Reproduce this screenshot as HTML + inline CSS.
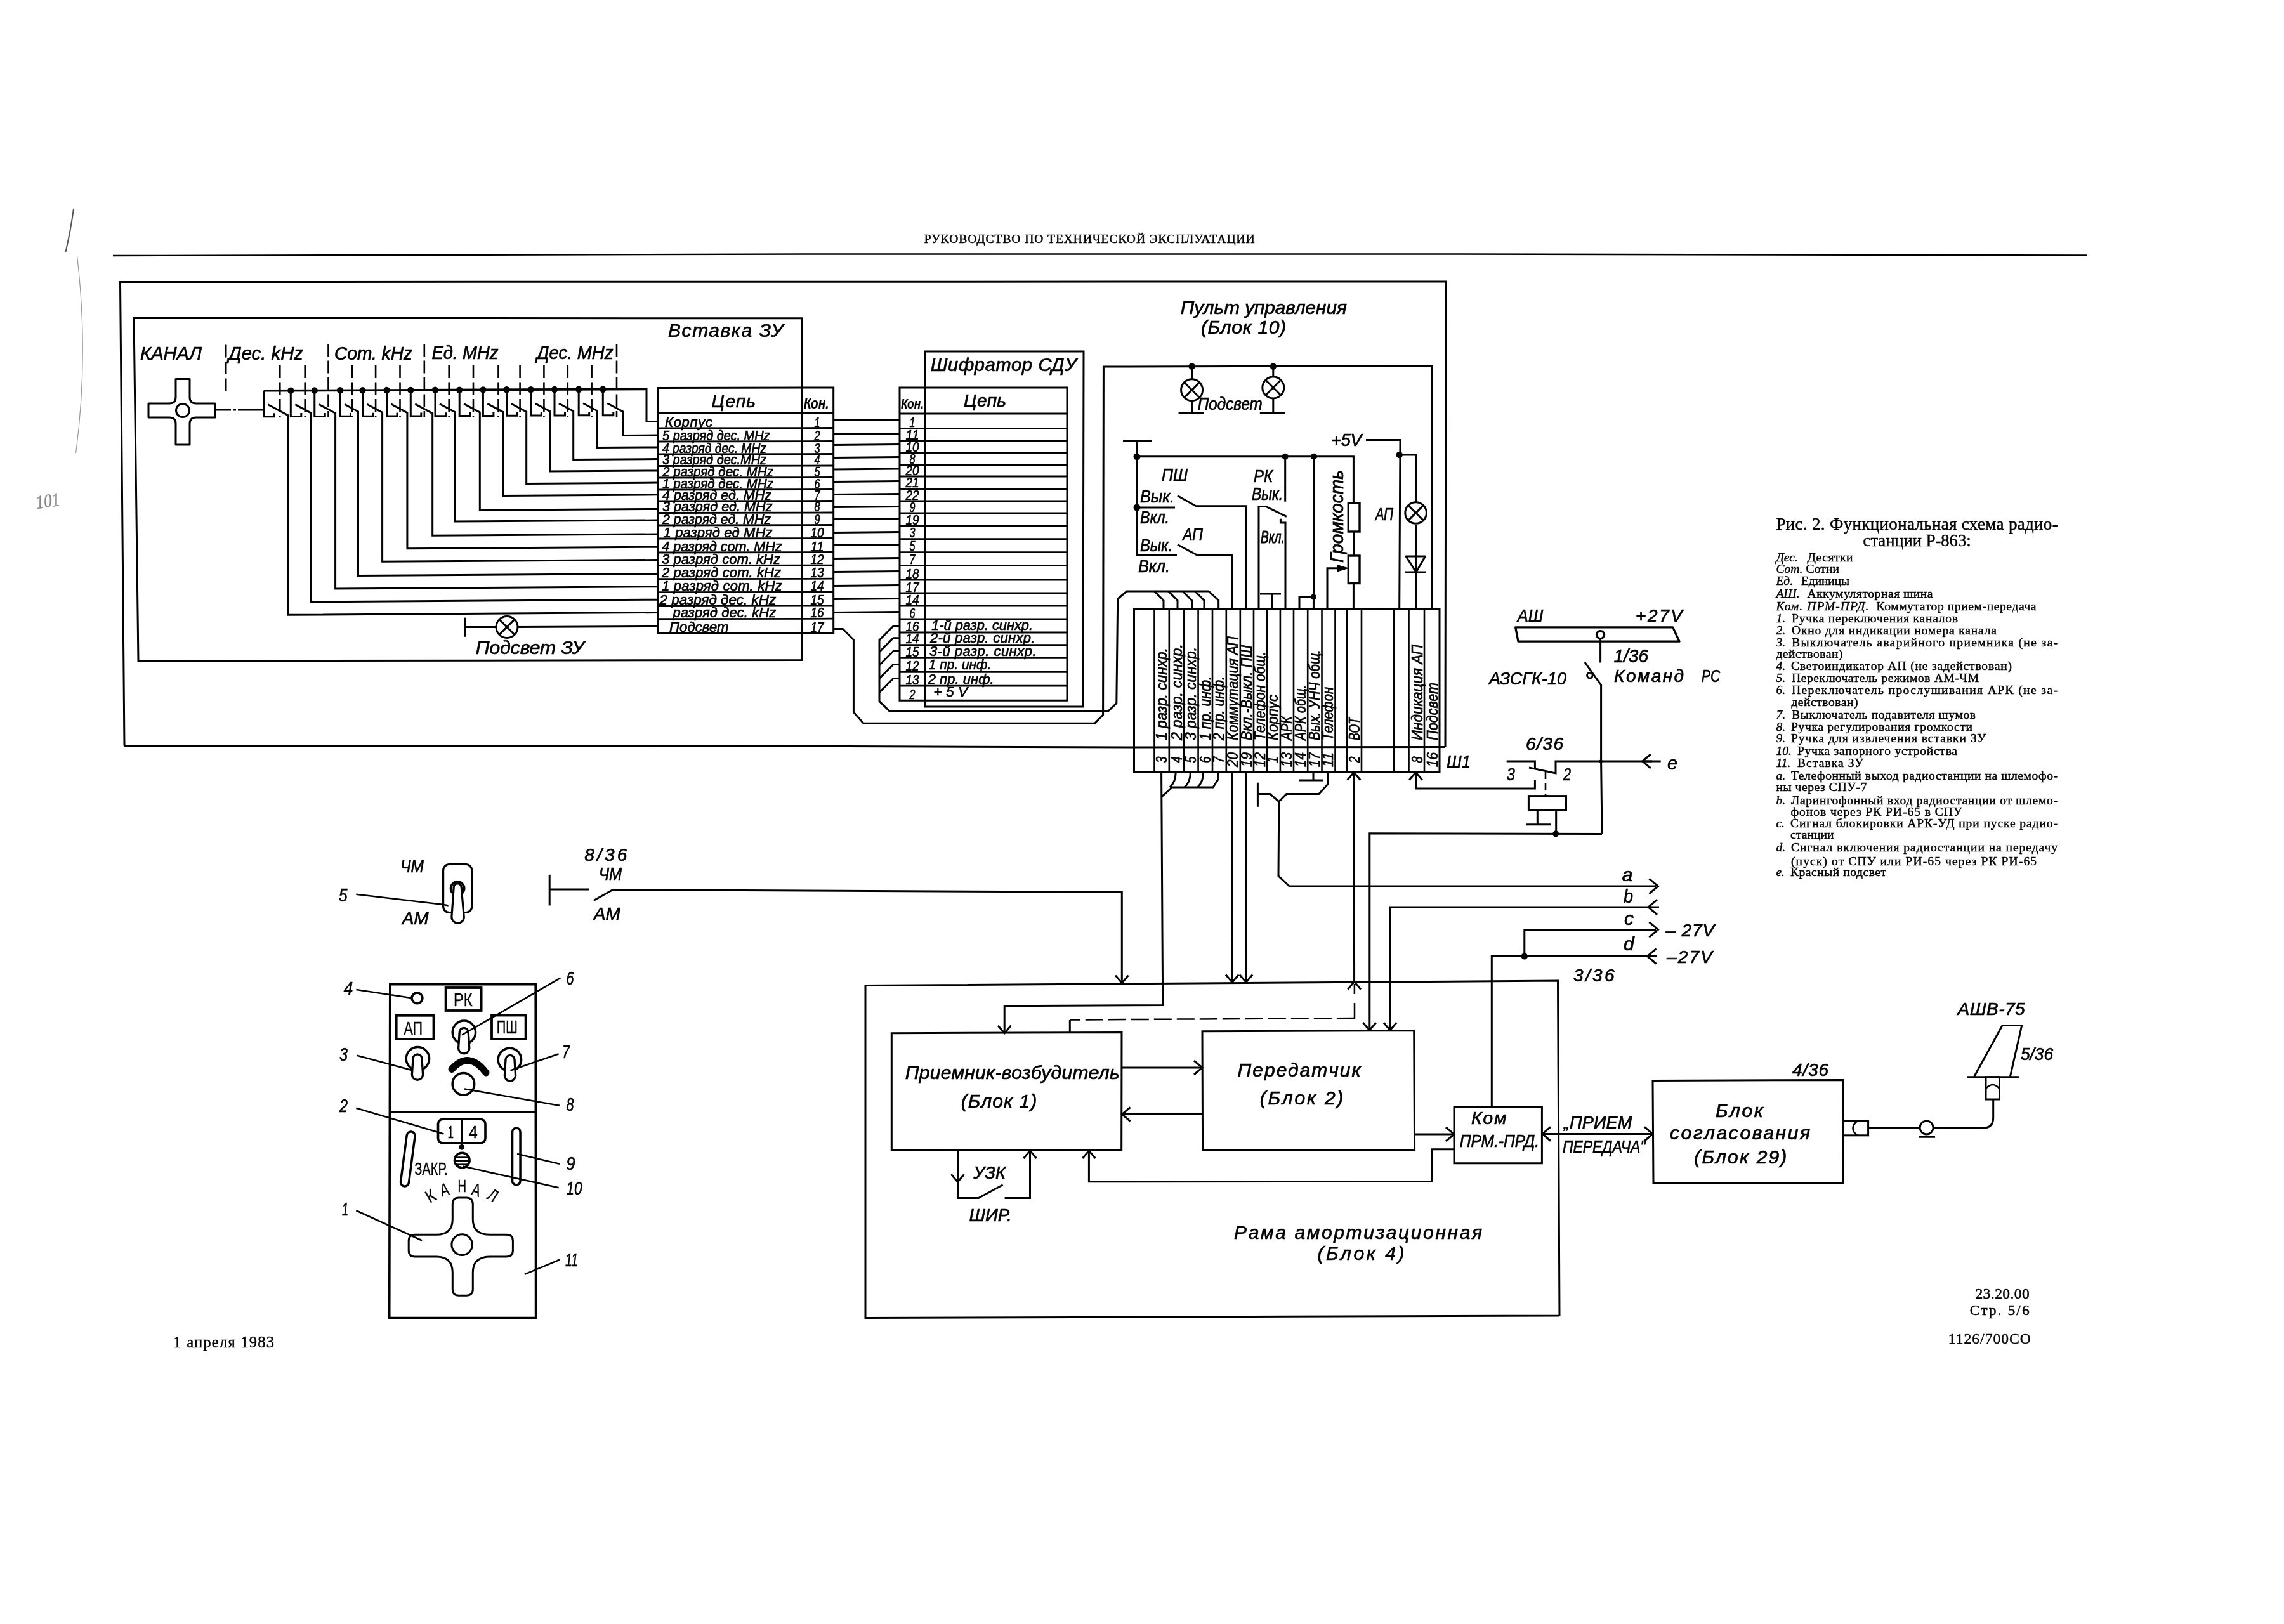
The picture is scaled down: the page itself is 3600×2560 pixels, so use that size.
<!DOCTYPE html>
<html lang="ru"><head><meta charset="utf-8"><title>Рис. 2. Функциональная схема радиостанции Р-863</title>
<style>
html,body{margin:0;padding:0;background:#fff}
svg{display:block;will-change:transform;opacity:.999}
text{fill:#000;stroke:#000;stroke-width:.7}
.g{font-family:"Liberation Sans",sans-serif;font-style:italic}
.gb{font-family:"Liberation Sans",sans-serif;font-style:italic;font-weight:bold;stroke-width:.2}
.u{font-family:"Liberation Sans",sans-serif;stroke-width:.4}
.s{font-family:"Liberation Serif",serif;stroke-width:.5}
.si{font-family:"Liberation Serif",serif;font-style:italic;stroke-width:.45}
</style></head><body>
<svg width="3600" height="2560" viewBox="0 0 3600 2560">
<rect x="0" y="0" width="3600" height="2560" fill="#fff"/>
<g fill="none" stroke="#000" stroke-width="3">
<text class="s" x="1456.7" y="382.5" font-size="19.5" textLength="521" lengthAdjust="spacing">РУКОВОДСТВО ПО ТЕХНИЧЕСКОЙ ЭКСПЛУАТАЦИИ</text>
<path d="M178 403 L1300 400.5 L2300 400.5 L3290 402.5" stroke-width="2.4"/>
<path d="M196 1175.5 L189.5 444.5 L2279 444 L2278 1177.5"/>
<path d="M196 1175.5 L1000 1175.5 L1788 1178"/>
<path d="M1264 611 L1264 501.7 L211 501.5 L218 1042 L1263.5 1040.5 L1263.5 998"/>
<path d="M277 597.5 H299 V626 Q299 636 309 636 H339 V658 H309 Q299 658 299 668 V701 H277 V668 Q277 658 267 658 H234 V636 H267 Q277 636 277 626 Z" stroke-linejoin="round"/>
<circle cx="288" cy="647" r="10.5"/>
<path d="M340 646 L364 646"/>
<path d="M367 646 L372 646"/>
<path d="M375 646 L414 646"/>
<text class="g" x="221" y="566.5" font-size="30" textLength="97" lengthAdjust="spacingAndGlyphs">КАНАЛ</text>
<text class="g" x="360" y="566.5" font-size="30" textLength="118" lengthAdjust="spacingAndGlyphs">Дес. kHz</text>
<text class="g" x="527" y="566.5" font-size="30" textLength="123" lengthAdjust="spacingAndGlyphs">Сот. kHz</text>
<text class="g" x="680.4" y="566" font-size="30" textLength="105" lengthAdjust="spacingAndGlyphs">Ед. MHz</text>
<text class="g" x="846" y="565.5" font-size="30" textLength="120.5" lengthAdjust="spacingAndGlyphs">Дес. MHz</text>
<text class="g" x="1053" y="530.6" font-size="30" textLength="181.5" lengthAdjust="spacing">Вставка ЗУ</text>
<text class="g" x="749.7" y="1031.3" font-size="30" textLength="171" lengthAdjust="spacing">Подсвет ЗУ</text>
<path d="M415.8 615.8 L1019 613.4" stroke-width="3.6"/>
<path d="M1019 612 L1019 664.6 L1037 664.6"/>
<path d="M356.2 543.6 L356.2 622" stroke-width="2.6" stroke-dasharray="20 6.5"/>
<path d="M517.5 542 L517.5 657" stroke-width="2.6" stroke-dasharray="20 6.5"/>
<path d="M668.8 542 L668.8 657" stroke-width="2.6" stroke-dasharray="20 6.5"/>
<path d="M972 542 L972 657" stroke-width="2.6" stroke-dasharray="20 6.5"/>
<path d="M441.3 576 L441.3 657" stroke-width="2.6" stroke-dasharray="20 6.5"/>
<path d="M480.7 576 L480.7 657" stroke-width="2.6" stroke-dasharray="20 6.5"/>
<path d="M555.3 576 L555.3 657" stroke-width="2.6" stroke-dasharray="20 6.5"/>
<path d="M592.1 576 L592.1 657" stroke-width="2.6" stroke-dasharray="20 6.5"/>
<path d="M630.5 576 L630.5 657" stroke-width="2.6" stroke-dasharray="20 6.5"/>
<path d="M707.7 576 L707.7 657" stroke-width="2.6" stroke-dasharray="20 6.5"/>
<path d="M746 576 L746 657" stroke-width="2.6" stroke-dasharray="20 6.5"/>
<path d="M785.5 576 L785.5 657" stroke-width="2.6" stroke-dasharray="20 6.5"/>
<path d="M819.6 576 L819.6 657" stroke-width="2.6" stroke-dasharray="20 6.5"/>
<path d="M857.4 576 L857.4 657" stroke-width="2.6" stroke-dasharray="20 6.5"/>
<path d="M894.8 576 L894.8 657" stroke-width="2.6" stroke-dasharray="20 6.5"/>
<path d="M932.6 576 L932.6 657" stroke-width="2.6" stroke-dasharray="20 6.5"/>
<path d="M415.5 615.8 L415.5 656.8 L432 656.8 L432 651.3"/>
<path d="M422.5 637.8 L454 654.7 L454 969.3 L1037 965.5"/>
<path d="M458.3 615.6 L458.3 656.6 L474.8 656.6 L474.8 651.1"/>
<circle cx="458.3" cy="615.6" r="5.2" fill="#000" stroke="none"/>
<path d="M465.3 637.6 L490.5 651.1 L490.5 948.8 L1037 945.2"/>
<path d="M495.8 615.5 L495.8 656.5 L512.3 656.5 L512.3 651"/>
<circle cx="495.8" cy="615.5" r="5.2" fill="#000" stroke="none"/>
<path d="M502.8 637.5 L528.6 651.3 L528.6 928 L1037 924.7"/>
<path d="M536 615.3 L536 656.3 L552.5 656.3 L552.5 650.8"/>
<circle cx="536" cy="615.3" r="5.2" fill="#000" stroke="none"/>
<path d="M543 637.3 L564.5 648.8 L564.5 907.5 L1037 904.4"/>
<path d="M571.5 615.2 L571.5 656.2 L588 656.2 L588 650.7"/>
<circle cx="571.5" cy="615.2" r="5.2" fill="#000" stroke="none"/>
<path d="M578.5 637.2 L602.6 650.1 L602.6 885.3 L1037 882.5"/>
<path d="M609.5 615 L609.5 656 L626 656 L626 650.5"/>
<circle cx="609.5" cy="615" r="5.2" fill="#000" stroke="none"/>
<path d="M616.5 637 L641.9 650.6 L641.9 864.8 L1037 862.2"/>
<path d="M647.3 614.9 L647.3 655.9 L663.8 655.9 L663.8 650.4"/>
<circle cx="647.3" cy="614.9" r="5.2" fill="#000" stroke="none"/>
<path d="M654.3 636.9 L681.7 651.6 L681.7 844.3 L1037 842"/>
<path d="M686 614.7 L686 655.7 L702.5 655.7 L702.5 650.2"/>
<circle cx="686" cy="614.7" r="5.2" fill="#000" stroke="none"/>
<path d="M693 636.7 L717.3 649.7 L717.3 822.1 L1037 820"/>
<path d="M724.2 614.6 L724.2 655.6 L740.7 655.6 L740.7 650.1"/>
<circle cx="724.2" cy="614.6" r="5.2" fill="#000" stroke="none"/>
<path d="M731.2 636.6 L756.3 650 L756.3 804.2 L1037 802.4"/>
<path d="M761.4 614.4 L761.4 655.4 L777.9 655.4 L777.9 649.9"/>
<circle cx="761.4" cy="614.4" r="5.2" fill="#000" stroke="none"/>
<path d="M768.4 636.4 L792.7 649.4 L792.7 781.4 L1037 779.8"/>
<path d="M798.6 614.3 L798.6 655.3 L815.1 655.3 L815.1 649.8"/>
<circle cx="798.6" cy="614.3" r="5.2" fill="#000" stroke="none"/>
<path d="M805.6 636.3 L829.7 649.2 L829.7 762.4 L1037 761.1"/>
<path d="M836.8 614.1 L836.8 655.1 L853.3 655.1 L853.3 649.6"/>
<circle cx="836.8" cy="614.1" r="5.2" fill="#000" stroke="none"/>
<path d="M843.8 636.1 L866.7 648.4 L866.7 743 L1037 741.9"/>
<path d="M874 614 L874 655 L890.5 655 L890.5 649.5"/>
<circle cx="874" cy="614" r="5.2" fill="#000" stroke="none"/>
<path d="M881 636 L903.7 648.1 L903.7 724.5 L1037 723.6"/>
<path d="M912.2 613.8 L912.2 654.8 L928.7 654.8 L928.7 649.3"/>
<circle cx="912.2" cy="613.8" r="5.2" fill="#000" stroke="none"/>
<path d="M919.2 635.8 L940.7 647.3 L940.7 705.5 L1037 704.9"/>
<path d="M950.3 613.7 L950.3 654.7 L966.8 654.7 L966.8 649.2"/>
<circle cx="950.3" cy="613.7" r="5.2" fill="#000" stroke="none"/>
<path d="M957.3 635.7 L982 648.9 L982 686.4 L1037 686"/>
<path d="M1037 611.5 L1313.7 611 L1313.7 998 L1037 998Z"/>
<path d="M1264 611 L1264 998"/>
<path d="M1037 651.5 L1313.7 651" stroke-width="2.8"/>
<path d="M1037 675 L1313.7 674.5" stroke-width="2.8"/>
<path d="M1037 696 L1313.7 695.5" stroke-width="2.8"/>
<path d="M1037 716 L1313.7 715.5" stroke-width="2.8"/>
<path d="M1037 734.5 L1313.7 734" stroke-width="2.8"/>
<path d="M1037 753 L1313.7 752.5" stroke-width="2.8"/>
<path d="M1037 772 L1313.7 771.5" stroke-width="2.8"/>
<path d="M1037 790 L1313.7 789.5" stroke-width="2.8"/>
<path d="M1037 808.5 L1313.7 808" stroke-width="2.8"/>
<path d="M1037 828 L1313.7 827.5" stroke-width="2.8"/>
<path d="M1037 849 L1313.7 848.5" stroke-width="2.8"/>
<path d="M1037 871 L1313.7 870.5" stroke-width="2.8"/>
<path d="M1037 891.6 L1313.7 891.1" stroke-width="2.8"/>
<path d="M1037 912.7 L1313.7 912.2" stroke-width="2.8"/>
<path d="M1037 933.7 L1313.7 933.2" stroke-width="2.8"/>
<path d="M1037 955.5 L1313.7 955" stroke-width="2.8"/>
<path d="M1037 975.7 L1313.7 975.2" stroke-width="2.8"/>
<text class="g" x="1121.6" y="642" font-size="28" textLength="69.5" lengthAdjust="spacing">Цепь</text>
<text class="gb" x="1267" y="643.6" font-size="23" textLength="39.5" lengthAdjust="spacingAndGlyphs">Кон.</text>
<text class="g" x="1048" y="672.5" font-size="22" textLength="75" lengthAdjust="spacing">Корпус</text>
<text class="g" x="1283.5" y="672.5" font-size="22" textLength="9" lengthAdjust="spacingAndGlyphs">1</text>
<text class="g" x="1044" y="693.5" font-size="22" textLength="169.6" lengthAdjust="spacingAndGlyphs">5 разряд дес. MHz</text>
<text class="g" x="1283.5" y="693.5" font-size="22" textLength="9" lengthAdjust="spacingAndGlyphs">2</text>
<text class="g" x="1044" y="713.5" font-size="22" textLength="164" lengthAdjust="spacingAndGlyphs">4 разряд дес. MHz</text>
<text class="g" x="1283.5" y="713.5" font-size="22" textLength="9" lengthAdjust="spacingAndGlyphs">3</text>
<text class="g" x="1044" y="732" font-size="22" textLength="164" lengthAdjust="spacingAndGlyphs">3 разряд дес.MHz</text>
<text class="g" x="1283.5" y="732" font-size="22" textLength="9" lengthAdjust="spacingAndGlyphs">4</text>
<text class="g" x="1044" y="750.5" font-size="22" textLength="174.8" lengthAdjust="spacingAndGlyphs">2 разряд дес. MHz</text>
<text class="g" x="1283.5" y="750.5" font-size="22" textLength="9" lengthAdjust="spacingAndGlyphs">5</text>
<text class="g" x="1044" y="769.5" font-size="22" textLength="174.8" lengthAdjust="spacingAndGlyphs">1 разряд дес. MHz</text>
<text class="g" x="1283.5" y="769.5" font-size="22" textLength="9" lengthAdjust="spacingAndGlyphs">6</text>
<text class="g" x="1044" y="787.5" font-size="22" textLength="172" lengthAdjust="spacingAndGlyphs">4 разряд ед.  MHz</text>
<text class="g" x="1283.5" y="787.5" font-size="22" textLength="9" lengthAdjust="spacingAndGlyphs">7</text>
<text class="g" x="1044" y="806" font-size="22" textLength="173.5" lengthAdjust="spacingAndGlyphs">3 разряд ед. MHz</text>
<text class="g" x="1283.5" y="806" font-size="22" textLength="9" lengthAdjust="spacingAndGlyphs">8</text>
<text class="g" x="1044" y="825.5" font-size="22" textLength="171" lengthAdjust="spacingAndGlyphs">2 разряд ед. MHz</text>
<text class="g" x="1283.5" y="825.5" font-size="22" textLength="9" lengthAdjust="spacingAndGlyphs">9</text>
<text class="g" x="1045.5" y="846.5" font-size="22" textLength="172" lengthAdjust="spacing">1 разряд ед MHz</text>
<text class="g" x="1277.5" y="846.5" font-size="22" textLength="21" lengthAdjust="spacingAndGlyphs">10</text>
<text class="g" x="1043.3" y="868.5" font-size="22" textLength="189.2" lengthAdjust="spacingAndGlyphs">4 разряд сот. MHz</text>
<text class="g" x="1277.5" y="868.5" font-size="22" textLength="21" lengthAdjust="spacingAndGlyphs">11</text>
<text class="g" x="1043" y="889.1" font-size="22" textLength="187" lengthAdjust="spacing">3 разряд сот. kHz</text>
<text class="g" x="1277.5" y="889.1" font-size="22" textLength="21" lengthAdjust="spacingAndGlyphs">12</text>
<text class="g" x="1043" y="910.2" font-size="22" textLength="188" lengthAdjust="spacing">2 разряд сот. kHz</text>
<text class="g" x="1277.5" y="910.2" font-size="22" textLength="21" lengthAdjust="spacingAndGlyphs">13</text>
<text class="g" x="1043" y="931.2" font-size="22" textLength="189.5" lengthAdjust="spacing">1 разряд сот. kHz</text>
<text class="g" x="1277.5" y="931.2" font-size="22" textLength="21" lengthAdjust="spacingAndGlyphs">14</text>
<text class="g" x="1039.4" y="953" font-size="22" textLength="183.9" lengthAdjust="spacingAndGlyphs">2 разряд  дес. kHz</text>
<text class="g" x="1277.5" y="953" font-size="22" textLength="21" lengthAdjust="spacingAndGlyphs">15</text>
<text class="g" x="1060.4" y="973.2" font-size="22" textLength="162.9" lengthAdjust="spacing">разряд дес. kHz</text>
<text class="g" x="1277.5" y="973.2" font-size="22" textLength="21" lengthAdjust="spacingAndGlyphs">16</text>
<text class="g" x="1055" y="995.5" font-size="22" textLength="93.4" lengthAdjust="spacing">Подсвет</text>
<text class="g" x="1277.5" y="995.5" font-size="22" textLength="21" lengthAdjust="spacingAndGlyphs">17</text>
<path d="M732.7 973.6 L732.7 1003.8"/>
<path d="M732.7 988.5 L782 988.5"/>
<path d="M816 988.5 L1037 987.5"/>
<circle cx="799" cy="988.5" r="17"/>
<path d="M787 976.5 L811 1000.5"/>
<path d="M787 1000.5 L811 976.5"/>
<path d="M1313.7 662.4 L1418 661.6"/>
<path d="M1313.7 684.4 L1418 683.6"/>
<path d="M1313.7 701.4 L1418 700.6"/>
<path d="M1313.7 721.4 L1418 720.6"/>
<path d="M1313.7 739.9 L1418 739.1"/>
<path d="M1313.7 759.4 L1418 758.6"/>
<path d="M1313.7 779.4 L1418 778.6"/>
<path d="M1313.7 799.4 L1418 798.6"/>
<path d="M1313.7 818.4 L1418 817.6"/>
<path d="M1313.7 839.4 L1418 838.6"/>
<path d="M1313.7 859.4 L1418 858.6"/>
<path d="M1313.7 880.4 L1418 879.6"/>
<path d="M1313.7 901.4 L1418 900.6"/>
<path d="M1313.7 923.4 L1418 922.6"/>
<path d="M1313.7 944.4 L1418 943.6"/>
<path d="M1313.7 965.4 L1418 964.6"/>
<path d="M1418 611 L1682 611 L1682 1104.2 L1418 1104.2Z"/>
<path d="M1458 1114 L1458 554 L1708 554 L1707 1114Z"/>
<path d="M1418 652 L1682 652" stroke-width="2.8"/>
<path d="M1418 675.6 L1682 675.6" stroke-width="2.8"/>
<path d="M1418 695 L1682 695" stroke-width="2.8"/>
<path d="M1418 714.5 L1682 714.5" stroke-width="2.8"/>
<path d="M1418 733 L1682 733" stroke-width="2.8"/>
<path d="M1418 751 L1682 751" stroke-width="2.8"/>
<path d="M1418 770.5 L1682 770.5" stroke-width="2.8"/>
<path d="M1418 790 L1682 790" stroke-width="2.8"/>
<path d="M1418 809 L1682 809" stroke-width="2.8"/>
<path d="M1418 829 L1682 829" stroke-width="2.8"/>
<path d="M1418 849.6 L1682 849.6" stroke-width="2.8"/>
<path d="M1418 870.6 L1682 870.6" stroke-width="2.8"/>
<path d="M1418 891.6 L1682 891.6" stroke-width="2.8"/>
<path d="M1418 914 L1682 914" stroke-width="2.8"/>
<path d="M1418 935 L1682 935" stroke-width="2.8"/>
<path d="M1418 955 L1682 955" stroke-width="2.8"/>
<path d="M1418 976 L1682 976" stroke-width="2.8"/>
<path d="M1418 997 L1682 997" stroke-width="2.8"/>
<path d="M1418 1016.6 L1682 1016.6" stroke-width="2.8"/>
<path d="M1418 1037.4 L1682 1037.4" stroke-width="2.8"/>
<path d="M1418 1059.3 L1682 1059.3" stroke-width="2.8"/>
<path d="M1418 1081.2 L1682 1081.2" stroke-width="2.8"/>
<text class="g" x="1466.7" y="585" font-size="29" textLength="230" lengthAdjust="spacing">Шифратор СДУ</text>
<text class="g" x="1519" y="641" font-size="28" textLength="67" lengthAdjust="spacing">Цепь</text>
<text class="gb" x="1420" y="643.6" font-size="22" textLength="36" lengthAdjust="spacingAndGlyphs">Кон.</text>
<text class="g" x="1433.5" y="673.1" font-size="22" textLength="9" lengthAdjust="spacingAndGlyphs">1</text>
<text class="g" x="1427.5" y="692.5" font-size="22" textLength="21" lengthAdjust="spacingAndGlyphs">11</text>
<text class="g" x="1427.5" y="712" font-size="22" textLength="21" lengthAdjust="spacingAndGlyphs">10</text>
<text class="g" x="1433.5" y="730.5" font-size="22" textLength="9" lengthAdjust="spacingAndGlyphs">8</text>
<text class="g" x="1427.5" y="748.5" font-size="22" textLength="21" lengthAdjust="spacingAndGlyphs">20</text>
<text class="g" x="1427.5" y="768" font-size="22" textLength="21" lengthAdjust="spacingAndGlyphs">21</text>
<text class="g" x="1427.5" y="787.5" font-size="22" textLength="21" lengthAdjust="spacingAndGlyphs">22</text>
<text class="g" x="1433.5" y="806.5" font-size="22" textLength="9" lengthAdjust="spacingAndGlyphs">9</text>
<text class="g" x="1427.5" y="826.5" font-size="22" textLength="21" lengthAdjust="spacingAndGlyphs">19</text>
<text class="g" x="1433.5" y="847.1" font-size="22" textLength="9" lengthAdjust="spacingAndGlyphs">3</text>
<text class="g" x="1433.5" y="868.1" font-size="22" textLength="9" lengthAdjust="spacingAndGlyphs">5</text>
<text class="g" x="1433.5" y="889.1" font-size="22" textLength="9" lengthAdjust="spacingAndGlyphs">7</text>
<text class="g" x="1427.5" y="911.5" font-size="22" textLength="21" lengthAdjust="spacingAndGlyphs">18</text>
<text class="g" x="1427.5" y="932.5" font-size="22" textLength="21" lengthAdjust="spacingAndGlyphs">17</text>
<text class="g" x="1427.5" y="952.5" font-size="22" textLength="21" lengthAdjust="spacingAndGlyphs">14</text>
<text class="g" x="1433.5" y="973.5" font-size="22" textLength="9" lengthAdjust="spacingAndGlyphs">6</text>
<text class="g" x="1427.5" y="994.5" font-size="22" textLength="21" lengthAdjust="spacingAndGlyphs">16</text>
<text class="g" x="1427.5" y="1014.1" font-size="22" textLength="21" lengthAdjust="spacingAndGlyphs">14</text>
<text class="g" x="1427.5" y="1034.9" font-size="22" textLength="21" lengthAdjust="spacingAndGlyphs">15</text>
<text class="g" x="1427.5" y="1056.8" font-size="22" textLength="21" lengthAdjust="spacingAndGlyphs">12</text>
<text class="g" x="1427.5" y="1078.7" font-size="22" textLength="21" lengthAdjust="spacingAndGlyphs">13</text>
<text class="g" x="1433.5" y="1101.7" font-size="22" textLength="9" lengthAdjust="spacingAndGlyphs">2</text>
<text class="g" x="1468.2" y="992.5" font-size="22" textLength="159.8" lengthAdjust="spacingAndGlyphs">1-й разр. синхр.</text>
<text class="g" x="1466" y="1013.3" font-size="22" textLength="165.3" lengthAdjust="spacing">2-й разр. синхр.</text>
<text class="g" x="1465" y="1034" font-size="22" textLength="168.5" lengthAdjust="spacing">3-й разр. синхр.</text>
<text class="g" x="1463.8" y="1055" font-size="22" textLength="98.5" lengthAdjust="spacingAndGlyphs">1 пр. инф.</text>
<text class="g" x="1462.7" y="1077.5" font-size="22" textLength="104" lengthAdjust="spacing">2 пр. инф.</text>
<text class="g" x="1471.5" y="1097.6" font-size="22" textLength="53.5" lengthAdjust="spacing">+ 5 V</text>
<path d="M1313.7 991.5 L1328.4 991.5 L1345.4 1008.5 L1345.4 1122.8 L1361 1140.3 L1725.4 1140.3 L1738.6 1127 L1739.4 578 L2257 576.8 L2257 961"/>
<path d="M1386 1008 L1386 1105.3 L1401.4 1120.6 L1747.3 1120.6 L1759.8 1108.6 L1761.7 944 L1776 932 L1905 932 L1920.7 946.5 L1920.7 961"/>
<path d="M1418 987 L1408 987 L1386 1009"/>
<path d="M1418 1005.7 L1408 1005.7 L1386 1027.7"/>
<path d="M1418 1026.5 L1408 1026.5 L1386 1048.5"/>
<path d="M1418 1047.5 L1408 1047.5 L1386 1069.5"/>
<path d="M1418 1069.5 L1408 1069.5 L1386 1091.5"/>
<path d="M1819.5 932 L1834 946.5 L1834 961"/>
<path d="M1841.5 932 L1856 946.5 L1856 961"/>
<path d="M1864.1 932 L1878.6 946.5 L1878.6 961"/>
<path d="M1883.5 932 L1898 946.5 L1898 961"/>
<text class="g" x="1860.8" y="495" font-size="30" textLength="262" lengthAdjust="spacingAndGlyphs">Пульт управления</text>
<text class="g" x="1893" y="526" font-size="30" textLength="134" lengthAdjust="spacing">(Блок 10)</text>
<circle cx="1878.6" cy="577.5" r="5.2" fill="#000" stroke="none"/>
<path d="M1878.6 577.5 L1878.6 597.7"/>
<path d="M1878.6 631.7 L1878.6 651.5"/>
<circle cx="1878.6" cy="614.7" r="17"/>
<path d="M1866.6 602.7 L1890.6 626.7"/>
<path d="M1866.6 626.7 L1890.6 602.7"/>
<path d="M1857.6 651.5 L1897.6 651.5"/>
<circle cx="2006.8" cy="577.5" r="5.2" fill="#000" stroke="none"/>
<path d="M2006.8 577.5 L2006.8 594"/>
<path d="M2006.8 628 L2006.8 651.5"/>
<circle cx="2006.8" cy="611" r="17"/>
<path d="M1994.8 599 L2018.8 623"/>
<path d="M1994.8 623 L2018.8 599"/>
<path d="M1985.8 651.5 L2025.8 651.5"/>
<text class="g" x="1887.8" y="646" font-size="27" textLength="102" lengthAdjust="spacingAndGlyphs">Подсвет</text>
<path d="M1770 695.3 L1815.6 695.3"/>
<path d="M1792 695.3 L1792 875.6 L1855 875.6"/>
<circle cx="1792" cy="719.8" r="5.5" fill="#000" stroke="none"/>
<circle cx="1792" cy="800" r="5.5" fill="#000" stroke="none"/>
<path d="M1792 719.8 L2133.4 719.8 L2133.4 792.5"/>
<circle cx="2025.7" cy="719.8" r="5" fill="#000" stroke="none"/>
<circle cx="2071" cy="719.8" r="5" fill="#000" stroke="none"/>
<path d="M1792 800 L1852 800"/>
<text class="g" x="1831" y="758" font-size="27" textLength="41" lengthAdjust="spacingAndGlyphs">ПШ</text>
<text class="g" x="1797" y="792" font-size="27" textLength="54" lengthAdjust="spacingAndGlyphs">Вык.</text>
<text class="g" x="1797" y="825" font-size="27" textLength="46" lengthAdjust="spacingAndGlyphs">Вкл.</text>
<path d="M1856 781.5 L1885 797.8 L1964 797.8 L1964 961"/>
<text class="g" x="1864" y="852" font-size="27" textLength="32" lengthAdjust="spacingAndGlyphs">АП</text>
<text class="g" x="1797" y="869" font-size="27" textLength="51" lengthAdjust="spacingAndGlyphs">Вык.</text>
<text class="g" x="1794" y="902" font-size="27" textLength="50" lengthAdjust="spacingAndGlyphs">Вкл.</text>
<path d="M1856 858.5 L1887.8 875.6 L1941.7 875.6 L1941.7 961"/>
<text class="g" x="1976" y="760" font-size="27" textLength="30" lengthAdjust="spacingAndGlyphs">РК</text>
<text class="g" x="1973" y="788" font-size="27" textLength="49" lengthAdjust="spacingAndGlyphs">Вык.</text>
<text class="g" x="1987" y="856.4" font-size="28" textLength="38" lengthAdjust="spacingAndGlyphs" style="stroke-width:0.9;">Вкл.</text>
<path d="M2025.7 719.8 L2025.7 790.7"/>
<path d="M1984 961 L1984 798.5 L1995.3 798.5 L2027.9 814.3"/>
<path d="M2018.4 817.7 L2018.4 824 L2026 824 L2026 961"/>
<path d="M1986 936 L2019 936"/>
<path d="M2004.7 936 L2004.7 961"/>
<path d="M2048 961 L2048 941 L2070.4 941"/>
<circle cx="2070.4" cy="941" r="4.5" fill="#000" stroke="none"/>
<path d="M2071 719.8 L2070.4 961"/>
<path d="M2092 961 L2092 895.7 L2110 895.7"/>
<path d="M2125 895.7 L2107.5 890.5 L2107.5 901 Z" stroke-width="1" fill="#000"/>
<path d="M2134 838 L2134 876"/>
<path d="M2133.4 919 L2133.4 961"/>
<rect x="2125.3" y="792.8" width="17.7" height="45.2" stroke-width="3.4"/>
<rect x="2125.3" y="876" width="17.7" height="43.5" stroke-width="3.4"/>
<text class="g" x="2116.5" y="887" font-size="30" textLength="146" lengthAdjust="spacingAndGlyphs" transform="rotate(-90 2116.5 887)" style="stroke-width:0.8;">Громкость</text>
<text class="g" x="2098" y="702.7" font-size="27" textLength="48.5" lengthAdjust="spacingAndGlyphs">+5V</text>
<path d="M2153 693.5 L2207 693.5 L2205.7 961"/>
<circle cx="2205.7" cy="717" r="5.2" fill="#000" stroke="none"/>
<path d="M2205.7 717 L2232 717 L2232 793"/>
<circle cx="2231.6" cy="808.5" r="16.8"/>
<path d="M2219.7 796.6 L2243.5 820.4"/>
<path d="M2219.7 820.4 L2243.5 796.6"/>
<path d="M2232 827 L2232 961"/>
<text class="g" x="2167.7" y="820.4" font-size="27.5" textLength="28.5" lengthAdjust="spacingAndGlyphs">АП</text>
<path d="M2216 877 L2246.4 877 L2232 901.9Z" stroke-linejoin="round"/>
<path d="M2215 902 L2247 902"/>
<path d="M1787.5 960.5 L2269 959.5 L2269 1217 L1787.5 1217.5Z"/>
<path d="M1787.5 1178 L2278 1177.5"/>
<path d="M1819.5 960 L1819.5 1217" stroke-width="2.6"/>
<path d="M1842.8 960 L1842.8 1217" stroke-width="2.6"/>
<path d="M1866 960 L1866 1217" stroke-width="2.6"/>
<path d="M1888.6 960 L1888.6 1217" stroke-width="2.6"/>
<path d="M1911 960 L1911 1217" stroke-width="2.6"/>
<path d="M1932.8 960 L1932.8 1217" stroke-width="2.6"/>
<path d="M1954.8 960 L1954.8 1217" stroke-width="2.6"/>
<path d="M1976 960 L1976 1217" stroke-width="2.6"/>
<path d="M1997 960 L1997 1217" stroke-width="2.6"/>
<path d="M2017.9 960 L2017.9 1217" stroke-width="2.6"/>
<path d="M2039 960 L2039 1217" stroke-width="2.6"/>
<path d="M2061.2 960 L2061.2 1217" stroke-width="2.6"/>
<path d="M2083.5 960 L2083.5 1217" stroke-width="2.6"/>
<path d="M2104.5 960 L2104.5 1217" stroke-width="2.6"/>
<path d="M2123 960 L2123 1217" stroke-width="2.6"/>
<path d="M2146 960 L2146 1217" stroke-width="2.6"/>
<path d="M2197 960 L2197 1217" stroke-width="2.6"/>
<path d="M2220.5 960 L2220.5 1217" stroke-width="2.6"/>
<path d="M2245 960 L2245 1217" stroke-width="2.6"/>
<text class="g" x="1839.3" y="1167" font-size="23" textLength="146" lengthAdjust="spacingAndGlyphs" transform="rotate(-90 1839.3 1167)">1 разр. синхр.</text>
<text class="g" x="1839.3" y="1202.5" font-size="23" textLength="10" lengthAdjust="spacingAndGlyphs" transform="rotate(-90 1839.3 1202.5)">3</text>
<text class="g" x="1862.5" y="1167" font-size="23" textLength="152" lengthAdjust="spacing" transform="rotate(-90 1862.5 1167)">2 разр. синхр.</text>
<text class="g" x="1862.5" y="1202.5" font-size="23" textLength="10" lengthAdjust="spacingAndGlyphs" transform="rotate(-90 1862.5 1202.5)">4</text>
<text class="g" x="1885.1" y="1167" font-size="23" textLength="147" lengthAdjust="spacingAndGlyphs" transform="rotate(-90 1885.1 1167)">3 разр. синхр.</text>
<text class="g" x="1885.1" y="1202.5" font-size="23" textLength="10" lengthAdjust="spacingAndGlyphs" transform="rotate(-90 1885.1 1202.5)">5</text>
<text class="g" x="1907.5" y="1167" font-size="23" textLength="101" lengthAdjust="spacingAndGlyphs" transform="rotate(-90 1907.5 1167)">1 пр. инф.</text>
<text class="g" x="1907.5" y="1202.5" font-size="23" textLength="10" lengthAdjust="spacingAndGlyphs" transform="rotate(-90 1907.5 1202.5)">6</text>
<text class="g" x="1929.3" y="1167" font-size="23" textLength="101" lengthAdjust="spacingAndGlyphs" transform="rotate(-90 1929.3 1167)">2 пр. инф.</text>
<text class="g" x="1929.3" y="1202.5" font-size="23" textLength="10" lengthAdjust="spacingAndGlyphs" transform="rotate(-90 1929.3 1202.5)">7</text>
<text class="g" x="1951.3" y="1167" font-size="23" textLength="164" lengthAdjust="spacingAndGlyphs" transform="rotate(-90 1951.3 1167)">Коммутация АП</text>
<text class="g" x="1951.3" y="1209" font-size="23" textLength="23" lengthAdjust="spacingAndGlyphs" transform="rotate(-90 1951.3 1209)">20</text>
<text class="g" x="1972.5" y="1167" font-size="23" textLength="150" lengthAdjust="spacingAndGlyphs" transform="rotate(-90 1972.5 1167)">Вкл.-Выкл. ПШ</text>
<text class="g" x="1972.5" y="1209" font-size="23" textLength="23" lengthAdjust="spacingAndGlyphs" transform="rotate(-90 1972.5 1209)">19</text>
<text class="g" x="1993.5" y="1167" font-size="23" textLength="140" lengthAdjust="spacingAndGlyphs" transform="rotate(-90 1993.5 1167)">Телефон общ.</text>
<text class="g" x="1993.5" y="1209" font-size="23" textLength="23" lengthAdjust="spacingAndGlyphs" transform="rotate(-90 1993.5 1209)">12</text>
<text class="g" x="2014.4" y="1167" font-size="23" textLength="72" lengthAdjust="spacingAndGlyphs" transform="rotate(-90 2014.4 1167)">Корпус</text>
<text class="g" x="2014.4" y="1202.5" font-size="23" textLength="10" lengthAdjust="spacingAndGlyphs" transform="rotate(-90 2014.4 1202.5)">1</text>
<text class="g" x="2035.5" y="1167" font-size="23" textLength="38" lengthAdjust="spacingAndGlyphs" transform="rotate(-90 2035.5 1167)">АРК</text>
<text class="g" x="2035.5" y="1209" font-size="23" textLength="23" lengthAdjust="spacingAndGlyphs" transform="rotate(-90 2035.5 1209)">13</text>
<text class="g" x="2057.7" y="1167" font-size="23" textLength="87" lengthAdjust="spacingAndGlyphs" transform="rotate(-90 2057.7 1167)">АРК общ.</text>
<text class="g" x="2057.7" y="1209" font-size="23" textLength="23" lengthAdjust="spacingAndGlyphs" transform="rotate(-90 2057.7 1209)">14</text>
<text class="g" x="2080" y="1167" font-size="23" textLength="143" lengthAdjust="spacingAndGlyphs" transform="rotate(-90 2080 1167)">Вых. УНЧ общ.</text>
<text class="g" x="2080" y="1209" font-size="23" textLength="23" lengthAdjust="spacingAndGlyphs" transform="rotate(-90 2080 1209)">17</text>
<text class="g" x="2101" y="1167" font-size="23" textLength="84" lengthAdjust="spacingAndGlyphs" transform="rotate(-90 2101 1167)">Телефон</text>
<text class="g" x="2101" y="1209" font-size="23" textLength="23" lengthAdjust="spacingAndGlyphs" transform="rotate(-90 2101 1209)">11</text>
<text class="g" x="2142.5" y="1167" font-size="23" textLength="36" lengthAdjust="spacingAndGlyphs" transform="rotate(-90 2142.5 1167)">ВОТ</text>
<text class="g" x="2142.5" y="1202.5" font-size="23" textLength="10" lengthAdjust="spacingAndGlyphs" transform="rotate(-90 2142.5 1202.5)">2</text>
<text class="g" x="2241.5" y="1167" font-size="23" textLength="151" lengthAdjust="spacingAndGlyphs" transform="rotate(-90 2241.5 1167)">Индикация АП</text>
<text class="g" x="2241.5" y="1202.5" font-size="23" textLength="10" lengthAdjust="spacingAndGlyphs" transform="rotate(-90 2241.5 1202.5)">8</text>
<text class="g" x="2265.5" y="1167" font-size="23" textLength="91" lengthAdjust="spacingAndGlyphs" transform="rotate(-90 2265.5 1167)">Подсвет</text>
<text class="g" x="2265.5" y="1209" font-size="23" textLength="23" lengthAdjust="spacingAndGlyphs" transform="rotate(-90 2265.5 1209)">16</text>
<text class="g" x="2280" y="1209.5" font-size="28" textLength="38" lengthAdjust="spacingAndGlyphs">Ш1</text>
<path d="M1830.6 1217 L1832.7 1584.4 L1583.2 1585.8 L1583.2 1628.7"/>
<path d="M1573 1616.7 L1583.2 1628.7 L1593.4 1616.7"/>
<path d="M1831 1255.9 L1847.6 1241.1 L1912 1241.1 L1920.5 1227.8 L1920.5 1217"/>
<path d="M1843.7 1241.1 Q1853.2 1233 1853.2 1217"/>
<path d="M1866.9 1241.1 Q1876.4 1233 1876.4 1217"/>
<path d="M1887.2 1241.1 Q1896.7 1233 1896.7 1217"/>
<path d="M1941.7 1217 L1942.2 1548"/>
<path d="M1932 1536.5 L1942.2 1548.5 L1952.4 1536.5"/>
<path d="M1963.5 1217 L1964 1548"/>
<path d="M1953.8 1536.5 L1964 1548.5 L1974.2 1536.5"/>
<path d="M1982.4 1233.7 L1982.4 1271.8"/>
<path d="M1982.4 1251.6 L2001.8 1251.6 L2015.8 1263.6 L2027.7 1251.6 L2078.8 1251.6 L2092.8 1236.2 L2092.8 1217"/>
<path d="M2015.8 1263.6 L2015 1380.8 L2032.3 1397 L2610 1397"/>
<path d="M2048 1230 L2086 1230"/>
<path d="M2070 1217 L2070 1230"/>
<path d="M2123.8 1229.5 L2134 1217.5 L2144.2 1229.5"/>
<path d="M2134 1218 L2134.6 1548"/>
<path d="M2124.4 1559.6 L2134.6 1547.6 L2144.8 1559.6"/>
<path d="M2134.9 1551 L2134.9 1567" stroke-width="2.5"/>
<path d="M2135 1581 L2135 1606" stroke-width="2.5"/>
<path d="M2134.8 1605 L1686.3 1607.6" stroke-width="2.5" stroke-dasharray="28 8"/>
<path d="M1686.3 1608 L1686.3 1627"/>
<path d="M2221.3 1229.5 L2231.5 1217.5 L2241.7 1229.5"/>
<path d="M2231.5 1218 L2231.5 1243 L2419.4 1243 L2419.4 1229.7"/>
<text class="g" x="2391.8" y="980" font-size="28" textLength="40.5" lengthAdjust="spacingAndGlyphs">АШ</text>
<text class="g" x="2578" y="980" font-size="28" textLength="74" lengthAdjust="spacing">+27V</text>
<path d="M2388.7 988.9 L2636.7 988.9 L2647 1011.2 L2393 1011.2Z" stroke-width="3.3" stroke-linejoin="round"/>
<circle cx="2522.5" cy="1000.6" r="6" stroke-width="3.4" fill="#fff"/>
<path d="M2522.6 1006.5 L2522.6 1044.5"/>
<text class="g" x="2543.5" y="1044" font-size="30" textLength="54.5" lengthAdjust="spacingAndGlyphs">1/36</text>
<text class="g" x="2544" y="1074.7" font-size="28" textLength="110" lengthAdjust="spacing">Команд</text>
<text class="g" x="2682" y="1074.7" font-size="28" textLength="29" lengthAdjust="spacingAndGlyphs">РС</text>
<text class="g" x="2347" y="1078.6" font-size="28" textLength="122" lengthAdjust="spacingAndGlyphs">АЗСГК-10</text>
<path d="M2498 1044 L2523.6 1080 L2523.6 1200 L2525 1315"/>
<circle cx="2505.8" cy="1064.6" r="4.3" stroke-width="2.8"/>
<text class="g" x="2405" y="1182.4" font-size="28" textLength="59" lengthAdjust="spacing">6/36</text>
<path d="M2374.7 1200 L2419.4 1200 L2419.4 1210"/>
<path d="M2410 1210 L2452 1219 L2452 1200 L2604 1200"/>
<circle cx="2523.2" cy="1200" r="2.6" fill="#000" stroke="none"/>
<path d="M2601.8 1189 L2588.8 1200 L2601.8 1211"/>
<path d="M2588.8 1200 L2617.7 1200"/>
<text class="g" x="2628" y="1212.6" font-size="30" textLength="16" lengthAdjust="spacingAndGlyphs">e</text>
<text class="g" x="2374.7" y="1229.7" font-size="28" textLength="13" lengthAdjust="spacingAndGlyphs">3</text>
<text class="g" x="2464" y="1229.7" font-size="28" textLength="12" lengthAdjust="spacingAndGlyphs">2</text>
<path d="M2436 1217 L2436 1254.6" stroke-width="2.6" stroke-dasharray="11 6"/>
<rect x="2409.4" y="1254.6" width="59.1" height="22.4"/>
<path d="M2423.3 1277 L2423.3 1299.8"/>
<path d="M2406 1299.8 L2444.3 1299.8"/>
<path d="M2452.7 1277 L2452.7 1315"/>
<circle cx="2452.2" cy="1314.5" r="5" fill="#000" stroke="none"/>
<path d="M2525 1314.5 L2158.8 1313.7 L2158.8 1623"/>
<path d="M2148.4 1612 L2158.6 1624 L2168.8 1612"/>
<path d="M2599.4 1385.1 L2613.4 1397 L2599.4 1408.9"/>
<text class="g" x="2556.7" y="1388.8" font-size="30" textLength="17" lengthAdjust="spacing">a</text>
<path d="M2191 1623 L2191 1430 L2615 1430"/>
<path d="M2180.8 1612 L2191 1624 L2201.2 1612"/>
<path d="M2612 1418.1 L2598 1430 L2612 1441.9"/>
<text class="g" x="2559" y="1422.5" font-size="30" textLength="15" lengthAdjust="spacingAndGlyphs">b</text>
<path d="M2402.8 1507.4 L2402.8 1465.4 L2610 1465.4"/>
<path d="M2599.4 1453.5 L2613.4 1465.4 L2599.4 1477.3"/>
<text class="g" x="2560" y="1457.8" font-size="30" textLength="15" lengthAdjust="spacing">c</text>
<path d="M2351.3 1745.8 L2351.3 1507.4 L2611.8 1507.4"/>
<path d="M2610.5 1495.5 L2596.5 1507.4 L2610.5 1519.3"/>
<circle cx="2402.8" cy="1507.4" r="5.2" fill="#000" stroke="none"/>
<text class="g" x="2559" y="1498" font-size="30" textLength="17" lengthAdjust="spacing">d</text>
<text class="g" x="2625.6" y="1476" font-size="28" textLength="76.5" lengthAdjust="spacing">– 27V</text>
<text class="g" x="2627" y="1517.5" font-size="28" textLength="72" lengthAdjust="spacing">–27V</text>
<text class="g" x="2480" y="1547" font-size="28" textLength="64.5" lengthAdjust="spacing">3/36</text>
<path d="M2458 2074 L2455.5 1546 L1364 1553.6 L1364 2077.5 L2458 2074"/>
<path d="M1405.3 1628.7 L1768 1627.5 L1767.7 1813 L1405.3 1813.5Z"/>
<text class="g" x="1426.7" y="1700.7" font-size="30" textLength="338" lengthAdjust="spacing">Приемник-возбудитель</text>
<text class="g" x="1514.7" y="1745.8" font-size="30" textLength="119.5" lengthAdjust="spacing">(Блок 1)</text>
<path d="M1895 1625.7 L2228.7 1624.6 L2229.6 1813 L1895.6 1813Z"/>
<text class="g" x="1950.6" y="1697.4" font-size="30" textLength="194" lengthAdjust="spacing">Передатчик</text>
<text class="g" x="1985.8" y="1741.3" font-size="30" textLength="131.5" lengthAdjust="spacing">(Блок 2)</text>
<path d="M1768 1683 L1895 1683"/>
<path d="M1882 1672 L1895 1683 L1882 1694"/>
<path d="M1768 1756.5 L1895 1756.5"/>
<path d="M1781.5 1745.5 L1768.5 1756.5 L1781.5 1767.5"/>
<path d="M1509.5 1813.5 L1509.5 1888.6 L1542.3 1888.6 L1580.6 1867.8"/>
<path d="M1499.3 1851.2 L1509.5 1863.2 L1519.7 1851.2"/>
<path d="M1583.6 1888.6 L1623.5 1888.6 L1623.5 1813.5"/>
<path d="M1613.3 1826 L1623.5 1814 L1633.7 1826"/>
<text class="g" x="1534.6" y="1858" font-size="28" textLength="50.5" lengthAdjust="spacingAndGlyphs">УЗК</text>
<text class="g" x="1527.6" y="1925.4" font-size="28" textLength="67" lengthAdjust="spacingAndGlyphs">ШИР.</text>
<path d="M1716.4 1813.5 L1716.4 1862.8 L2256.5 1862.2 L2256.5 1811.7 L2292 1811.7"/>
<path d="M1706.2 1826 L1716.4 1814 L1726.6 1826"/>
<path d="M2292 1745.6 L2430.4 1745.6 L2430.4 1833.7 L2292 1833.7Z"/>
<text class="g" x="2319" y="1772" font-size="28" textLength="55.5" lengthAdjust="spacing">Ком</text>
<text class="g" x="2300.7" y="1808" font-size="28" textLength="125.5" lengthAdjust="spacingAndGlyphs">ПРМ.-ПРД.</text>
<path d="M2229 1788 L2292 1788"/>
<path d="M2279 1777 L2292 1788 L2279 1799"/>
<path d="M2430.4 1787.4 L2605 1787.4"/>
<path d="M2444 1776.4 L2431 1787.4 L2444 1798.5"/>
<path d="M2592 1776.4 L2605 1787.4 L2592 1798.5"/>
<text class="g" x="2464.7" y="1779" font-size="27" textLength="107.5" lengthAdjust="spacing">„ПРИЕМ</text>
<text class="g" x="2463" y="1816.8" font-size="27" textLength="130.5" lengthAdjust="spacingAndGlyphs">ПЕРЕДАЧА"</text>
<text class="g" x="1945" y="1952.5" font-size="30" textLength="391" lengthAdjust="spacing">Рама амортизационная</text>
<text class="g" x="2076.5" y="1986.4" font-size="30" textLength="137" lengthAdjust="spacing">(Блок 4)</text>
<path d="M2605 1703.5 L2904.8 1702.4 L2905.5 1864.9 L2606 1864.9Z"/>
<text class="g" x="2825" y="1696.3" font-size="28" textLength="57" lengthAdjust="spacing">4/36</text>
<text class="g" x="2704" y="1760.7" font-size="30" textLength="75" lengthAdjust="spacing">Блок</text>
<text class="g" x="2632" y="1795.5" font-size="30" textLength="221" lengthAdjust="spacing">согласования</text>
<text class="g" x="2670.3" y="1834.2" font-size="30" textLength="146" lengthAdjust="spacing">(Блок 29)</text>
<rect x="2904.8" y="1767.4" width="39.8" height="22.4"/>
<path d="M2927 1767.4 Q2914 1778.6 2927 1789.8" stroke-width="2.6"/>
<path d="M2944.6 1778.4 H3026 M3047 1778 H3126 Q3141.7 1778 3141.7 1762 V1733"/>
<circle cx="3036.6" cy="1777.5" r="10.5"/>
<path d="M3024 1792 L3050 1792" stroke-width="3.5"/>
<rect x="3130" y="1697.8" width="21.5" height="35.2"/>
<path d="M3130 1716 Q3140.7 1704 3151.5 1716" stroke-width="2.6"/>
<path d="M3101 1697.8 L3182 1697.8"/>
<path d="M3111.7 1697 L3156 1616.6 L3186.7 1616.6 L3168.4 1697"/>
<text class="g" x="3085.6" y="1599.8" font-size="28" textLength="106" lengthAdjust="spacing">АШВ-75</text>
<text class="g" x="3185" y="1671" font-size="28" textLength="51" lengthAdjust="spacingAndGlyphs">5/36</text>
<text class="g" x="533.9" y="1421.4" font-size="30" textLength="13.5" lengthAdjust="spacingAndGlyphs">5</text>
<text class="g" x="631" y="1374.9" font-size="28" textLength="37" lengthAdjust="spacingAndGlyphs">ЧМ</text>
<text class="g" x="633.7" y="1457" font-size="28" textLength="42" lengthAdjust="spacing">АМ</text>
<path d="M561.4 1409.8 L699.4 1426" stroke-width="2.6"/>
<rect x="698.6" y="1362.5" width="45.2" height="76" rx="9.5" stroke-width="3.2"/>
<circle cx="721.1" cy="1400.4" r="10.6" stroke-width="3.6"/>
<path d="M715.2 1399 Q715.2 1392.8 721.1 1392.8 Q727 1392.8 727.2 1399 L731.3 1445.5 A9.7 9.7 0 0 1 711.9 1445.5 Z" stroke-width="3.2" fill="#fff"/>
<path d="M699.4 1426 L706.7 1427.6" stroke-width="2.6"/>
<text class="g" x="921.3" y="1356.5" font-size="28" textLength="67" lengthAdjust="spacing">8/36</text>
<text class="g" x="943.7" y="1386.7" font-size="27" textLength="36.5" lengthAdjust="spacingAndGlyphs">ЧМ</text>
<text class="g" x="935.8" y="1450.3" font-size="28" textLength="42" lengthAdjust="spacing">АМ</text>
<path d="M866.2 1378.8 L866.2 1427.4"/>
<path d="M866.2 1402 L928 1402"/>
<path d="M935.8 1419.5 L966 1402.5 L1768.3 1406.3 L1768.3 1549"/>
<path d="M1758.1 1537.6 L1768.3 1549.6 L1778.5 1537.6"/>
<path d="M614.8 1551.6 L844.2 1551.6 L844.6 2077.5 L613.7 2077.5Z" stroke-width="3.6"/>
<path d="M614.5 1753.3 L844.2 1753.3" stroke-width="3.4"/>
<text class="g" x="541.7" y="1568" font-size="30" textLength="14.5" lengthAdjust="spacingAndGlyphs">4</text>
<path d="M561.4 1560 L649.4 1573.2" stroke-width="2.6"/>
<circle cx="657.5" cy="1573.4" r="8.4" stroke-width="3.6"/>
<rect x="702.6" y="1557" width="56" height="36" stroke-width="3.8"/>
<text class="u" x="715" y="1585.8" font-size="30" textLength="29.6" lengthAdjust="spacingAndGlyphs">РК</text>
<rect x="624.7" y="1600.8" width="58.8" height="37.2" stroke-width="3.8"/>
<text class="u" x="636.4" y="1630.7" font-size="30" textLength="29.6" lengthAdjust="spacingAndGlyphs">АП</text>
<rect x="775" y="1600.5" width="53.6" height="37.5" stroke-width="3.8"/>
<text class="u" x="782.7" y="1628.8" font-size="30" textLength="33" lengthAdjust="spacingAndGlyphs">ПШ</text>
<circle cx="731.4" cy="1627.3" r="18.2" stroke-width="3.5"/>
<path d="M724.2 1627.3 L722.6 1652.3 A8.6 8.6 0 0 0 739.8 1652.3 L738.2 1627.3 A7 7 0 0 0 724.2 1627.3 Z" stroke-width="3.3" fill="#fff"/>
<circle cx="658.4" cy="1668.8" r="18.2" stroke-width="3.5"/>
<path d="M651 1668.8 L649.4 1693.8 A8.6 8.6 0 0 0 666.6 1693.8 L665 1668.8 A7 7 0 0 0 651 1668.8 Z" stroke-width="3.3" fill="#fff"/>
<circle cx="803.4" cy="1670.4" r="18.2" stroke-width="3.5"/>
<path d="M797 1670.4 L795.4 1695.4 A8.6 8.6 0 0 0 812.6 1695.4 L811 1670.4 A7 7 0 0 0 797 1670.4 Z" stroke-width="3.3" fill="#fff"/>
<text class="g" x="892.4" y="1551.7" font-size="30" textLength="12" lengthAdjust="spacingAndGlyphs">6</text>
<path d="M883.2 1541.7 L728.2 1631.5" stroke-width="2.6"/>
<text class="g" x="535" y="1671.7" font-size="30" textLength="13" lengthAdjust="spacingAndGlyphs">3</text>
<path d="M562.7 1663.8 L650.8 1687.5" stroke-width="2.6"/>
<text class="g" x="885.9" y="1667.8" font-size="30" textLength="12" lengthAdjust="spacingAndGlyphs">7</text>
<path d="M880.6 1661.2 L804.4 1687.5" stroke-width="2.6"/>
<path d="M712 1685.5 Q739 1655 766 1691" stroke-width="11" stroke-linecap="round"/>
<circle cx="730.4" cy="1708.8" r="17.3" stroke-width="3.5"/>
<text class="g" x="892.4" y="1750.6" font-size="30" textLength="12" lengthAdjust="spacingAndGlyphs">8</text>
<path d="M732 1716.5 L882 1742.7" stroke-width="2.6"/>
<text class="g" x="535" y="1753" font-size="30" textLength="13" lengthAdjust="spacingAndGlyphs">2</text>
<path d="M561.4 1746.7 L699.4 1787.4" stroke-width="2.6"/>
<rect x="690.5" y="1764.2" width="74.5" height="37.7" rx="7.5" stroke-width="3.6"/>
<path d="M727.8 1764 L727.8 1808"/>
<circle cx="727.8" cy="1808.4" r="4.3" fill="#000" stroke="none"/>
<text class="u" x="705.5" y="1794.3" font-size="28.5" textLength="9.5" lengthAdjust="spacingAndGlyphs">1</text>
<text class="u" x="739.3" y="1794.3" font-size="28.5" textLength="13.5" lengthAdjust="spacingAndGlyphs">4</text>
<circle cx="728.3" cy="1829" r="11.8" stroke-width="3.6"/>
<path d="M717.4 1824.5 L739.2 1824.5" stroke-width="2.5"/>
<path d="M716.5 1830 L740.1 1830" stroke-width="2.5"/>
<path d="M718.5 1835.6 L738.1 1835.6" stroke-width="2.5"/>
<text class="g" x="892.4" y="1883.3" font-size="30" textLength="25" lengthAdjust="spacingAndGlyphs">10</text>
<text class="g" x="892.4" y="1843.9" font-size="30" textLength="14" lengthAdjust="spacingAndGlyphs">9</text>
<path d="M647.6 1790.5 L638 1863.5" stroke-width="16.5" stroke-linecap="round"/>
<path d="M647.6 1790.5 L638 1863.5" stroke-width="9.5" stroke-linecap="round" stroke="#fff"/>
<path d="M813.8 1784.5 L813.8 1861.5" stroke-width="16" stroke-linecap="round"/>
<path d="M813.8 1784.5 L813.8 1861.5" stroke-width="9" stroke-linecap="round" stroke="#fff"/>
<path d="M815 1819 L882 1834.7" stroke-width="2.6"/>
<path d="M729.6 1838.6 L880.6 1872.3" stroke-width="2.6"/>
<text class="u" x="653.2" y="1851.7" font-size="28" textLength="52.4" lengthAdjust="spacingAndGlyphs">ЗАКР.</text>
<text class="u" font-size="28" textLength="13.5" lengthAdjust="spacingAndGlyphs" x="671.7" y="1895" transform="rotate(-30 678.4 1885)">К</text>
<text class="u" font-size="28" textLength="13.5" lengthAdjust="spacingAndGlyphs" x="693.9" y="1884.9" transform="rotate(-13 700.6 1874.9)">А</text>
<text class="u" font-size="28" textLength="13.5" lengthAdjust="spacingAndGlyphs" x="721.6" y="1878.8" transform="rotate(0 728.3 1868.8)">Н</text>
<text class="u" font-size="28" textLength="13.5" lengthAdjust="spacingAndGlyphs" x="744.2" y="1885.4" transform="rotate(15 750.9 1875.4)">А</text>
<text class="u" font-size="28" textLength="13.5" lengthAdjust="spacingAndGlyphs" x="770.4" y="1894" transform="rotate(33 777.1 1884)">Л</text>
<path d="M723 1888 H735 Q745.3 1888 745.3 1898 V1922 Q745.3 1946.3 772 1946.3 H798 Q808.4 1946.3 808.4 1956 V1971 Q808.4 1981 798 1981 H772 Q745.3 1981 745.3 2006 V2032 Q745.3 2042.2 735 2042.2 H723 Q713.3 2042.2 713.3 2032 V2006 Q713.3 1981 688 1981 H654 Q644.2 1981 644.2 1971 V1956 Q644.2 1946.3 654 1946.3 H688 Q713.3 1946.3 713.3 1922 V1898 Q713.3 1888 723 1888 Z"/>
<circle cx="728.2" cy="1962.1" r="16.3"/>
<text class="g" x="539" y="1916" font-size="30" textLength="10" lengthAdjust="spacingAndGlyphs">1</text>
<path d="M561.4 1908.2 L665.2 1955.5" stroke-width="2.6"/>
<text class="g" x="891" y="1996" font-size="30" textLength="20" lengthAdjust="spacingAndGlyphs">11</text>
<path d="M882 1985.7 L826.8 2008.9" stroke-width="2.6"/>
<text class="s" x="273.3" y="2124" font-size="24.5" textLength="158.7" lengthAdjust="spacing">1 апреля 1983</text>
<text class="s" x="3113.4" y="2047" font-size="23.5" textLength="85.4" lengthAdjust="spacing">23.20.00</text>
<text class="s" x="3104.7" y="2073.3" font-size="23.5" textLength="94" lengthAdjust="spacing">Стр. 5/6</text>
<text class="s" x="3070.8" y="2118.2" font-size="23.5" textLength="130" lengthAdjust="spacing">1126/700СО</text>
<text class="s" x="2799.4" y="834.5" font-size="27" textLength="444.3" lengthAdjust="spacing">Рис. 2. Функциональная схема радио-</text>
<text class="s" x="2936.6" y="861" font-size="27" textLength="170" lengthAdjust="spacingAndGlyphs">станции Р-863:</text>
<text class="si" x="2799.4" y="885" font-size="19.5">Дес.</text>
<text class="s" x="2848.5" y="885" font-size="19.5" textLength="72" lengthAdjust="spacing">Десятки</text>
<text class="si" x="2799.4" y="902.7" font-size="19.5">Сот.</text>
<text class="s" x="2846.5" y="902.7" font-size="19.5" textLength="52.5" lengthAdjust="spacing">Сотни</text>
<text class="si" x="2799.4" y="922" font-size="19.5">Ед.</text>
<text class="s" x="2839" y="922" font-size="19.5" textLength="76" lengthAdjust="spacingAndGlyphs">Единицы</text>
<text class="si" x="2799.4" y="942" font-size="19.5">АШ.</text>
<text class="s" x="2848.5" y="942" font-size="19.5" textLength="198" lengthAdjust="spacing">Аккумуляторная шина</text>
<text class="si" x="2799.4" y="962" font-size="19.5" textLength="146" lengthAdjust="spacing">Ком. ПРМ-ПРД.</text>
<text class="s" x="2957.5" y="962" font-size="19.5" textLength="252" lengthAdjust="spacing">Коммутатор прием-передача</text>
<text class="si" x="2799.4" y="980.7" font-size="19.5">1.</text>
<text class="s" x="2824" y="980.7" font-size="19.5" textLength="262" lengthAdjust="spacing">Ручка переключения каналов</text>
<text class="si" x="2799.4" y="999.5" font-size="19.5">2.</text>
<text class="s" x="2824" y="999.5" font-size="19.5" textLength="323" lengthAdjust="spacing">Окно для индикации номера канала</text>
<text class="si" x="2799.4" y="1018.8" font-size="19.5">3.</text>
<text class="s" x="2824" y="1018.8" font-size="19.5" textLength="419" lengthAdjust="spacing">Выключатель аварийного приемника (не за-</text>
<text class="s" x="2799.4" y="1036.8" font-size="19.5" textLength="105" lengthAdjust="spacing">действован)</text>
<text class="si" x="2799.4" y="1056" font-size="19.5">4.</text>
<text class="s" x="2823" y="1056" font-size="19.5" textLength="348" lengthAdjust="spacing">Светоиндикатор АП (не задействован)</text>
<text class="si" x="2799.4" y="1074.9" font-size="19.5">5.</text>
<text class="s" x="2824" y="1074.9" font-size="19.5" textLength="295" lengthAdjust="spacing">Переключатель режимов АМ-ЧМ</text>
<text class="si" x="2799.4" y="1094" font-size="19.5">6.</text>
<text class="s" x="2824" y="1094" font-size="19.5" textLength="419" lengthAdjust="spacing">Переключатель прослушивания АРК (не за-</text>
<text class="s" x="2823.4" y="1113.3" font-size="19.5" textLength="105" lengthAdjust="spacing">действован)</text>
<text class="si" x="2799.4" y="1132.6" font-size="19.5">7.</text>
<text class="s" x="2824" y="1132.6" font-size="19.5" textLength="290" lengthAdjust="spacing">Выключатель подавителя шумов</text>
<text class="si" x="2799.4" y="1151.9" font-size="19.5">8.</text>
<text class="s" x="2823" y="1151.9" font-size="19.5" textLength="286" lengthAdjust="spacing">Ручка регулирования громкости</text>
<text class="si" x="2799.4" y="1170" font-size="19.5">9.</text>
<text class="s" x="2823" y="1170" font-size="19.5" textLength="307" lengthAdjust="spacing">Ручка для извлечения вставки ЗУ</text>
<text class="si" x="2799.4" y="1189.7" font-size="19.5">10.</text>
<text class="s" x="2833" y="1189.7" font-size="19.5" textLength="252" lengthAdjust="spacing">Ручка запорного устройства</text>
<text class="si" x="2799.4" y="1208.5" font-size="19.5">11.</text>
<text class="s" x="2833" y="1208.5" font-size="19.5" textLength="104" lengthAdjust="spacing">Вставка ЗУ</text>
<text class="si" x="2799.4" y="1229.4" font-size="19.5">a.</text>
<text class="s" x="2823" y="1229.4" font-size="19.5" textLength="420" lengthAdjust="spacing">Телефонный выход радиостанции на шлемофо-</text>
<text class="s" x="2799.4" y="1247" font-size="19.5" textLength="143" lengthAdjust="spacing">ны через СПУ-7</text>
<text class="si" x="2799.4" y="1268" font-size="19.5">b.</text>
<text class="s" x="2823" y="1268" font-size="19.5" textLength="420" lengthAdjust="spacing">Ларингофонный вход радиостанции от шлемо-</text>
<text class="s" x="2822.5" y="1285.5" font-size="19.5" textLength="270" lengthAdjust="spacing">фонов через РК РИ-65 в СПУ</text>
<text class="si" x="2799.4" y="1303.6" font-size="19.5">c.</text>
<text class="s" x="2822" y="1303.6" font-size="19.5" textLength="421" lengthAdjust="spacing">Сигнал блокировки АРК-УД при пуске радио-</text>
<text class="s" x="2822" y="1321.6" font-size="19.5" textLength="68.5" lengthAdjust="spacing">станции</text>
<text class="si" x="2799.4" y="1342" font-size="19.5">d.</text>
<text class="s" x="2823" y="1342" font-size="19.5" textLength="420" lengthAdjust="spacing">Сигнал включения радиостанции на передачу</text>
<text class="s" x="2823" y="1364" font-size="19.5" textLength="387" lengthAdjust="spacing">(пуск) от СПУ или РИ-65 через РК РИ-65</text>
<text class="si" x="2799.4" y="1380.6" font-size="19.5">e.</text>
<text class="s" x="2822" y="1380.6" font-size="19.5" textLength="151" lengthAdjust="spacing">Красный подсвет</text>
<path d="M116 329 Q112 360 103.5 397" stroke-width="2" stroke="#555"/>
<path d="M121.5 403 Q140 560 119.6 714" stroke-width="1.2" stroke="#999"/>
<text class="si" x="58" y="802" font-size="30" textLength="38" lengthAdjust="spacingAndGlyphs" transform="rotate(-8 58 802)" style="fill:#888;stroke:#888;">101</text>
</g>
</svg>
</body></html>
